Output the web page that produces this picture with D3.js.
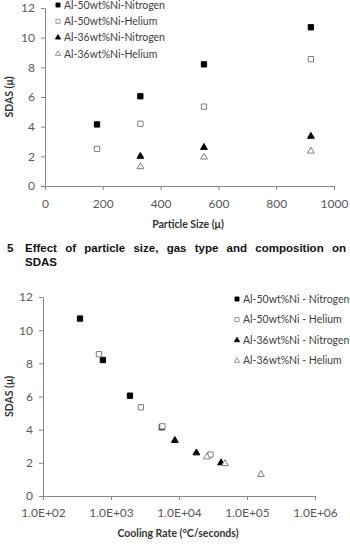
<!DOCTYPE html>
<html>
<head>
<meta charset="utf-8">
<script src="https://cdn.jsdelivr.net/npm/d3@7"></script>
<style>
  body { margin: 0; background: #fff; }
  svg { display: block; }
</style>
</head>
<body>
<script>
// --- data ---
const seriesNames = ["Al-50wt%Ni-Nitrogen", "Al-50wt%Ni-Helium", "Al-36wt%Ni-Nitrogen", "Al-36wt%Ni-Helium"];
const seriesNames2 = ["Al-50wt%Ni - Nitrogen", "Al-50wt%Ni - Helium", "Al-36wt%Ni - Nitrogen", "Al-36wt%Ni - Helium"];

// particle size (μ) vs SDAS (μ)
const size50N = [[180, 4.15], [330, 6.05], [550, 8.2], [920, 10.7]];
const size50He = [[180, 2.5], [330, 4.2], [550, 5.35], [920, 8.55]];
const size36N = [[330, 2.0], [550, 2.6], [920, 3.35]];
const size36He = [[330, 1.3], [550, 1.95], [920, 2.35]];

// cooling rate (°C/s) vs SDAS (μ)
const rate50N = [[350, 10.7], [760, 8.2], [1900, 6.05], [5600, 4.15]];
const rate50He = [[665, 8.55], [2750, 5.35], [5700, 4.2], [29000, 2.5]];
const rate36N = [[8700, 3.35], [18000, 2.6], [41500, 2.0]];
const rate36He = [[25700, 2.35], [47500, 1.95], [160000, 1.3]];

const yTicks = [0, 2, 4, 6, 8, 10, 12];
const sizeTicks = [0, 200, 400, 600, 800, 1000];
const rateTicks = [1e2, 1e3, 1e4, 1e5, 1e6];

const captionNum = "5";
const captionWords = ["Effect", "of", "particle", "size,", "gas", "type", "and", "composition", "on"];
const captionLine2 = "SDAS";

const width = 350, height = 548;
const axisColor = "#868686";
const textColor = "#595959";
const font = "Lato, 'Open Sans', sans-serif";

const svg = d3.select("body").append("svg")
  .attr("width", width)
  .attr("height", height);

// marker styles: filled square, open square, filled triangle, open triangle
const markerStyles = [
  { type: d3.symbolSquare, size: 28, fill: "#000", stroke: "#000" },
  { type: d3.symbolSquare, size: 28, fill: "#fff", stroke: "#7f7f7f" },
  { type: d3.symbolTriangle, size: 20, fill: "#000", stroke: "#000" },
  { type: d3.symbolTriangle, size: 20, fill: "#fff", stroke: "#7f7f7f" }
];

function drawPoints(g, series, x, y) {
  series.forEach((data, i) => {
    const m = markerStyles[i];
    g.selectAll(null)
      .data(data)
      .enter().append("path")
      .attr("d", d3.symbol().type(m.type).size(m.size))
      .attr("transform", d => `translate(${x(d[0])},${y(d[1])})`)
      .attr("fill", m.fill)
      .attr("stroke", m.stroke)
      .attr("stroke-width", 1);
  });
}

function drawLegend(g, names, x0, y0, dy, fontSize) {
  names.forEach((name, i) => {
    const m = markerStyles[i];
    const row = g.append("g").attr("transform", `translate(${x0},${y0 + i * dy})`);
    row.append("path")
      .attr("d", d3.symbol().type(m.type).size(m.size * 0.6))
      .attr("fill", m.fill)
      .attr("stroke", m.stroke)
      .attr("stroke-width", 0.8);
    row.append("text")
      .attr("x", 6)
      .attr("y", 0)
      .attr("dy", "0.35em")
      .attr("font-family", font)
      .attr("font-size", fontSize)
      .attr("fill", "#404040")
      .text(name);
  });
}

function styleAxis(sel) {
  sel.select(".domain").attr("stroke", axisColor);
  sel.selectAll(".tick line").attr("stroke", axisColor);
  sel.selectAll(".tick text")
    .attr("fill", textColor)
    .attr("font-family", font)
    .attr("font-size", 12);
}

// ---------- top chart ----------
const x1 = d3.scaleLinear().domain([0, 1000]).range([45, 334]);
const y1 = d3.scaleLinear().domain([0, 12]).range([186, 8]);

svg.append("g")
  .attr("transform", `translate(0,${y1(0)})`)
  .call(d3.axisBottom(x1).tickValues(sizeTicks).tickFormat(d3.format("d"))
    .tickSize(4).tickSizeOuter(0).tickPadding(9))
  .call(styleAxis);

svg.append("g")
  .attr("transform", `translate(${x1(0)},0)`)
  .call(d3.axisLeft(y1).tickValues(yTicks).tickSize(4).tickSizeOuter(0).tickPadding(6))
  .call(styleAxis);

drawPoints(svg.append("g"), [size50N, size50He, size36N, size36He], x1, y1);
drawLegend(svg.append("g"), seriesNames, 58, 5, 16.3, 10.5);

svg.append("text")
  .attr("x", 188).attr("y", 228)
  .attr("text-anchor", "middle")
  .attr("font-family", font).attr("font-weight", "bold").attr("font-size", 10.5)
  .attr("fill", "#333")
  .text("Particle Size (\u03bc)");

svg.append("text")
  .attr("transform", `translate(13,${(y1(0) + y1(12)) / 2}) rotate(-90)`)
  .attr("text-anchor", "middle")
  .attr("font-family", font).attr("font-weight", "bold").attr("font-size", 10.5)
  .attr("fill", "#333")
  .text("SDAS (\u03bc)");

// ---------- caption (justified) ----------
const cap = svg.append("g")
  .attr("font-family", "'Liberation Sans', Arial, sans-serif")
  .attr("font-weight", "bold")
  .attr("font-size", 11.5)
  .attr("fill", "#111");

cap.append("text").attr("x", 7).attr("y", 252).text(captionNum);
const words = cap.selectAll(null).data(captionWords).enter().append("text")
  .attr("y", 252)
  .text(d => d);
const widths = [];
words.each(function () { widths.push(this.getComputedTextLength()); });
const capLeft = 25, capRight = 346;
const gap = (capRight - capLeft - d3.sum(widths)) / (captionWords.length - 1);
let cx = capLeft;
words.attr("x", (d, i) => { const v = cx; cx += widths[i] + gap; return v; });
cap.append("text").attr("x", capLeft).attr("y", 266).text(captionLine2);

// ---------- bottom chart ----------
const x2 = d3.scaleLog().domain([1e2, 1e6]).range([43, 315]);
const y2 = d3.scaleLinear().domain([0, 12]).range([496, 297]);

svg.append("g")
  .attr("transform", `translate(0,${y2(0)})`)
  .call(d3.axisBottom(x2).tickValues(rateTicks).tickFormat(d => d.toExponential(1).toUpperCase().replace("E+", "E+0"))
    .tickSize(4).tickSizeOuter(0).tickPadding(8))
  .call(styleAxis);

svg.append("g")
  .attr("transform", `translate(${x2(1e2)},0)`)
  .call(d3.axisLeft(y2).tickValues(yTicks).tickSize(4).tickSizeOuter(0).tickPadding(6))
  .call(styleAxis);

drawPoints(svg.append("g"), [rate50N, rate50He, rate36N, rate36He], x2, y2);
drawLegend(svg.append("g"), seriesNames2, 237, 299, 20.6, 10.5);

svg.append("text")
  .attr("x", 178).attr("y", 537)
  .attr("text-anchor", "middle")
  .attr("font-family", font).attr("font-weight", "bold").attr("font-size", 10.5)
  .attr("fill", "#333")
  .text("Cooling Rate (\u00b0C/seconds)");

svg.append("text")
  .attr("transform", `translate(13,${(y2(0) + y2(12)) / 2}) rotate(-90)`)
  .attr("text-anchor", "middle")
  .attr("font-family", font).attr("font-weight", "bold").attr("font-size", 10.5)
  .attr("fill", "#333")
  .text("SDAS (\u03bc)");
</script>
</body>
</html>
